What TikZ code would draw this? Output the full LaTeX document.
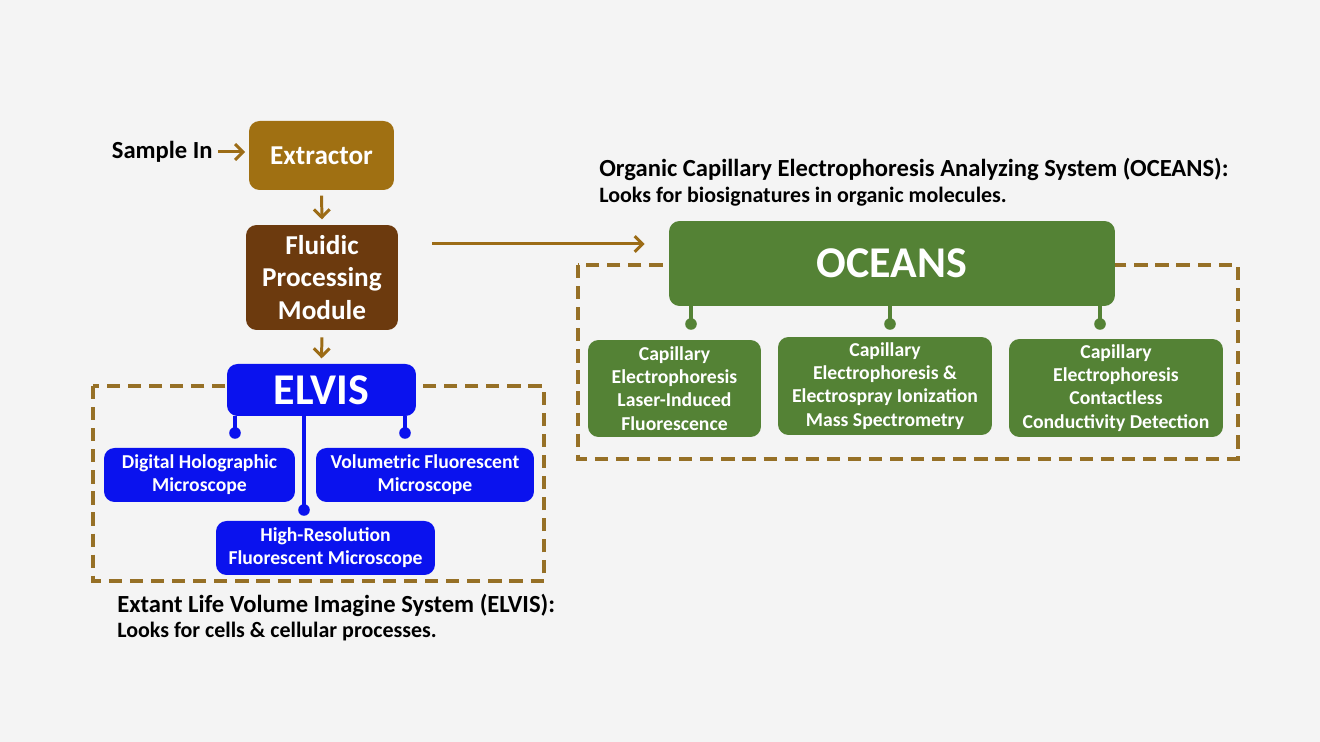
\documentclass[tikz,border=0pt]{standalone}
\usepackage{fontspec}
\setmainfont{Carlito}
\usetikzlibrary{arrows.meta}

\definecolor{paper}{RGB}{244,244,244}
\definecolor{gold}{RGB}{160,112,18}
\definecolor{mud}{RGB}{108,58,14}
\definecolor{elvblue}{RGB}{10,18,238}
\definecolor{ocgreen}{RGB}{84,130,53}
\definecolor{flowc}{RGB}{156,108,22}
\definecolor{dashc}{RGB}{150,112,38}

\tikzset{
  box/.style={rounded corners=6pt, text=white, align=center, inner sep=0pt,
    font=\bfseries\fontsize{11.2}{13.2}\selectfont},
  bigbox/.style={box, font=\bfseries\fontsize{25}{30}\selectfont},
  flow/.style={-{Straight Barb[length=4.5pt,width=9pt]}, line width=1.7pt, flowc},
  group/.style={dashc, line width=2.2pt, dash pattern=on 7.5pt off 4.5pt},
  tie/.style={line width=2.2pt},
  caption/.style={anchor=west, inner sep=0pt, font=\bfseries\fontsize{14}{16}\selectfont},
  subcaption/.style={anchor=west, inner sep=0pt, font=\bfseries\fontsize{12.5}{15}\selectfont}
}

\begin{document}
\begin{tikzpicture}[x=0.02cm, y=-0.02cm]
  \fill[paper] (0,0) rectangle (1320,742);
  \useasboundingbox (0,0) rectangle (1320,742);

  % dashed groups
  \draw[group] (93,386) rectangle (544,581);
  \draw[group] (578,265) rectangle (1238,459);

  % input chain
  \node[box, fill=gold, minimum width=2.9cm, minimum height=1.38cm,
    font=\bfseries\fontsize{15.5}{18}\selectfont] (extractor) at (321.5,155.5) {Extractor};
  \node[anchor=east, inner sep=0pt, font=\bfseries\fontsize{14}{16}\selectfont] (samplein) at (213,152) {Sample In};
  \node[box, fill=mud, minimum width=3.04cm, minimum height=2.1cm,
    font=\bfseries\fontsize{15.5}{18.6}\selectfont] (fluidic) at (322,277.5) {Fluidic\\Processing\\Module};
  \draw[flow, shorten <=3pt, shorten >=2pt] (samplein.east) -- (samplein.east -| extractor.west);
  \draw[flow, shorten <=3pt, shorten >=3pt] (extractor.south) -- (fluidic.north);

  % ELVIS
  \node[bigbox, fill=elvblue, minimum width=3.78cm, minimum height=1.04cm] (elvis) at (321.5,390) {ELVIS};
  \draw[flow, shorten <=4pt, shorten >=3pt] (fluidic.south) -- (elvis.north);
  \node[box, fill=elvblue, minimum width=3.82cm, minimum height=1.08cm] (dhm) at (199.5,475) {Digital Holographic\\Microscope};
  \node[box, fill=elvblue, minimum width=4.36cm, minimum height=1.08cm] (vfm) at (425,475) {Volumetric Fluorescent\\Microscope};
  \node[box, fill=elvblue, minimum width=4.38cm, minimum height=1.08cm] (hrfm) at (325.5,548) {High-Resolution\\Fluorescent Microscope};
  \coordinate (e1) at (235,433);
  \coordinate (e2) at (304,510);
  \coordinate (e3) at (405,433);
  \foreach \p in {e1,e2,e3}{
    \draw[tie, elvblue] (elvis.south -| \p) -- (\p);
    \fill[elvblue] (\p) circle (3.3pt);
  }
  \node[caption] (elviscap) at (117,605) {Extant Life Volume Imagine System (ELVIS):};
  \node[subcaption] (elvissub) at (117,632) {Looks for cells \& cellular processes.};

  % OCEANS
  \node[bigbox, fill=ocgreen, minimum width=8.92cm, minimum height=1.7cm] (oceans) at (892,263.5) {OCEANS};
  \draw[flow, shorten <=0.68cm, shorten >=0.48cm] (fluidic.east |- 0,244) -- (oceans.west |- 0,244);
  \node[box, fill=ocgreen, minimum width=3.46cm, minimum height=1.94cm] (celif) at (674.5,388.5) {Capillary\\Electrophoresis\\Laser-Induced\\Fluorescence};
  \node[box, fill=ocgreen, minimum width=4.28cm, minimum height=1.96cm] (cems) at (885,386) {Capillary\\Electrophoresis \&\\Electrospray Ionization\\Mass Spectrometry};
  \node[box, fill=ocgreen, minimum width=4.28cm, minimum height=1.96cm] (cecd) at (1116,388) {Capillary\\Electrophoresis\\Contactless\\Conductivity Detection};
  \coordinate (o1) at (691,324);
  \coordinate (o2) at (890,324);
  \coordinate (o3) at (1100,324);
  \foreach \p in {o1,o2,o3}{
    \draw[tie, ocgreen] (oceans.south -| \p) -- (\p);
    \fill[ocgreen] (\p) circle (3.3pt);
  }
  \node[caption] (oceanscap) at (599,169) {Organic Capillary Electrophoresis Analyzing System (OCEANS):};
  \node[subcaption] (oceanssub) at (599,197) {Looks for biosignatures in organic molecules.};
\end{tikzpicture}
\end{document}
